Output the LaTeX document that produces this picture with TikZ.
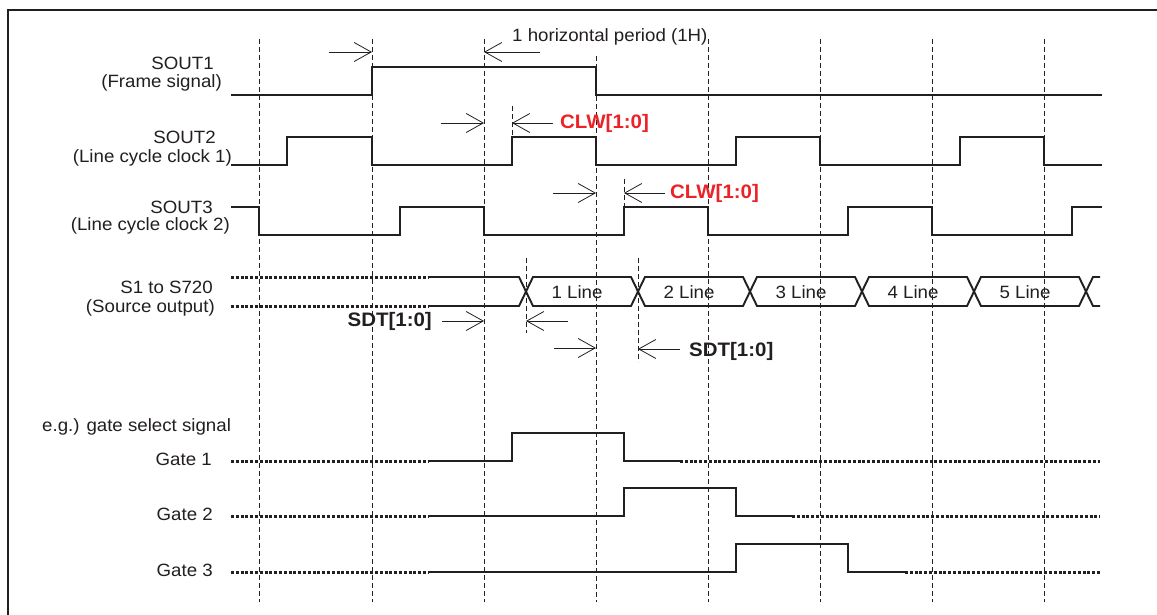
\documentclass[tikz,border=0pt]{standalone}
\usepackage{fontspec}
\setmainfont{Liberation Sans}[FakeStretch=1.05]
\usetikzlibrary{arrows.meta}
\definecolor{ink}{RGB}{35,31,32}
\definecolor{clwred}{RGB}{236,34,40}

\begin{document}
\begin{tikzpicture}
    [
        x=1pt, y=-1pt,
        wave/.style = {draw=ink, line width=1.9pt},
        dotwave/.style = {draw=ink, line width=3pt, dash pattern=on 3pt off 1.8pt},
        guide/.style = {draw=ink, line width=0.7pt, dash pattern=on 5pt off 3pt},
        dimarrow/.style = {draw=ink, line width=0.8pt, -{Straight Barb[length=17pt,width=19pt]}},
        lbl/.style = {anchor=east, inner sep=0pt, text=ink, font=\fontsize{17.8}{21}\selectfont},
        clw/.style = {anchor=west, inner sep=0pt, text=clwred, font=\fontsize{19.5}{23}\selectfont\bfseries},
        sdt/.style = {anchor=east, inner sep=0pt, text=ink, font=\fontsize{19.5}{23}\selectfont\bfseries},
    ]

    \useasboundingbox (0,0) rectangle (1157,615);
    \fill[white] (0,0) rectangle (1157,615);

    % frame
    \draw[ink, line width=2pt] (7.5,615) -- (7.5,10) -- (1157,10);

    % timing guides
    \draw[guide] (259,39) -- (259,602);
    \draw[guide] (372,39) -- (372,602);
    \draw[guide] (484,39) -- (484,602);
    \draw[guide] (596,56) -- (596,602);
    \draw[guide] (708,39) -- (708,602);
    \draw[guide] (820,39) -- (820,602);
    \draw[guide] (932,39) -- (932,602);
    \draw[guide] (1044,39) -- (1044,602);

    \draw[guide] (512,106) -- (512,137);
    \draw[guide] (624,179) -- (624,207);
    \draw[guide] (526,258) -- (526,333);
    \draw[guide] (638,258) -- (638,362);

    % signal names
    \node[lbl] (sout1) at (214,63) {SOUT1};
    \node[lbl] (sout1b) at (222,82.5) {(Frame signal)};
    \node[lbl] (sout2) at (216,137) {SOUT2};
    \node[lbl] (sout2b) at (232,158) {(Line cycle clock 1)};
    \node[lbl] (sout3) at (213,207) {SOUT3};
    \node[lbl] (sout3b) at (230,226) {(Line cycle clock 2)};
    \node[lbl] (src) at (213,287.5) {S1 to S720};
    \node[lbl] (srcb) at (215,308) {(Source output)};
    \node[lbl, anchor=west] (eg) at (42,427) {e.g.) gate select signal};
    \node[lbl] (gate1) at (212,459) {Gate 1};
    \node[lbl] (gate2) at (213,514.5) {Gate 2};
    \node[lbl] (gate3) at (213,570) {Gate 3};

    % SOUT1 - SOUT3
    \draw[wave] (231,95) -| (372,67) -| (596,95) -- (1102,95);
    \draw[wave] (231,165) -| (287,137) -| (372,165) -| (512,137) -| (596,165) -| (736,137) -| (820,165) -| (960,137) -| (1044,165) -- (1102,165);
    \draw[wave] (231,207) -| (259,235) -| (400,207) -| (484,235) -| (624,207) -| (708,235) -| (848,207) -| (932,235) -| (1072,207) -- (1102,207);

    % source output
    \draw[dotwave] (231,277) -- (428,277);
    \draw[dotwave] (231,306) -- (428,306);
    \draw[wave] (428,277) -- (519,277) -- (526,291.5) -- (519,306) -- (428,306);
    \draw[wave] (526,291.5) -- (533,277) -- (631,277) -- (638,291.5) -- (631,306) -- (533,306) -- cycle;
    \draw[wave] (638,291.5) -- (645,277) -- (743,277) -- (750,291.5) -- (743,306) -- (645,306) -- cycle;
    \draw[wave] (750,291.5) -- (757,277) -- (855,277) -- (862,291.5) -- (855,306) -- (757,306) -- cycle;
    \draw[wave] (862,291.5) -- (869,277) -- (967,277) -- (974,291.5) -- (967,306) -- (869,306) -- cycle;
    \draw[wave] (974,291.5) -- (981,277) -- (1079,277) -- (1086,291.5) -- (1079,306) -- (981,306) -- cycle;
    \draw[wave] (1100,277) -- (1093,277) -- (1086,291.5) -- (1093,306) -- (1100,306);

    \node[lbl, anchor=center] (line1) at (577,292) {1 Line};
    \node[lbl, anchor=center] (line2) at (689,292) {2 Line};
    \node[lbl, anchor=center] (line3) at (801,292) {3 Line};
    \node[lbl, anchor=center] (line4) at (913,292) {4 Line};
    \node[lbl, anchor=center] (line5) at (1025,292) {5 Line};

    % gate select
    \draw[dotwave] (231,461) -- (428,461);
    \draw[wave] (428,461) -| (512,433) -| (624,461) -- (680,461);
    \draw[dotwave] (680,461) -- (1100,461);

    \draw[dotwave] (231,516) -- (428,516);
    \draw[wave] (428,516) -| (624,488) -| (736,516) -- (792,516);
    \draw[dotwave] (792,516) -- (1100,516);

    \draw[dotwave] (231,572) -- (428,572);
    \draw[wave] (428,572) -| (736,544) -| (848,572) -- (905,572);
    \draw[dotwave] (905,572) -- (1100,572);

    % 1H
    \node[lbl, anchor=west] (hperiod) at (512,37) {1 horizontal period (1H)};
    \coordinate (h1a) at (329,52);
    \coordinate (h1b) at (372,52);
    \coordinate (h2a) at (540,52);
    \coordinate (h2b) at (484,52);
    \draw[dimarrow] (h1a) -- (h1b);
    \draw[dimarrow] (h2a) -- (h2b);

    % CLW
    \node[clw] (clw1) at (560,123) {CLW[1:0]};
    \coordinate (c1a) at (441,123);
    \coordinate (c1b) at (484,123);
    \coordinate (c1c) at (553,123);
    \coordinate (c1d) at (512,123);
    \draw[dimarrow] (c1a) -- (c1b);
    \draw[dimarrow] (c1c) -- (c1d);

    \node[clw] (clw2) at (670,193) {CLW[1:0]};
    \coordinate (c2a) at (553,193);
    \coordinate (c2b) at (596,193);
    \coordinate (c2c) at (665,193);
    \coordinate (c2d) at (624,193);
    \draw[dimarrow] (c2a) -- (c2b);
    \draw[dimarrow] (c2c) -- (c2d);

    % SDT
    \node[sdt] (sdt1) at (432,321) {SDT[1:0]};
    \coordinate (s1a) at (442,321);
    \coordinate (s1b) at (484,321);
    \coordinate (s1c) at (568,321);
    \coordinate (s1d) at (526,321);
    \draw[dimarrow] (s1a) -- (s1b);
    \draw[dimarrow] (s1c) -- (s1d);

    \node[sdt, anchor=west] (sdt2) at (689,351) {SDT[1:0]};
    \coordinate (s2a) at (554,348);
    \coordinate (s2b) at (596,348);
    \coordinate (s2c) at (680,349);
    \coordinate (s2d) at (638,349);
    \draw[dimarrow] (s2a) -- (s2b);
    \draw[dimarrow] (s2c) -- (s2d);
\end{tikzpicture}
\end{document}
